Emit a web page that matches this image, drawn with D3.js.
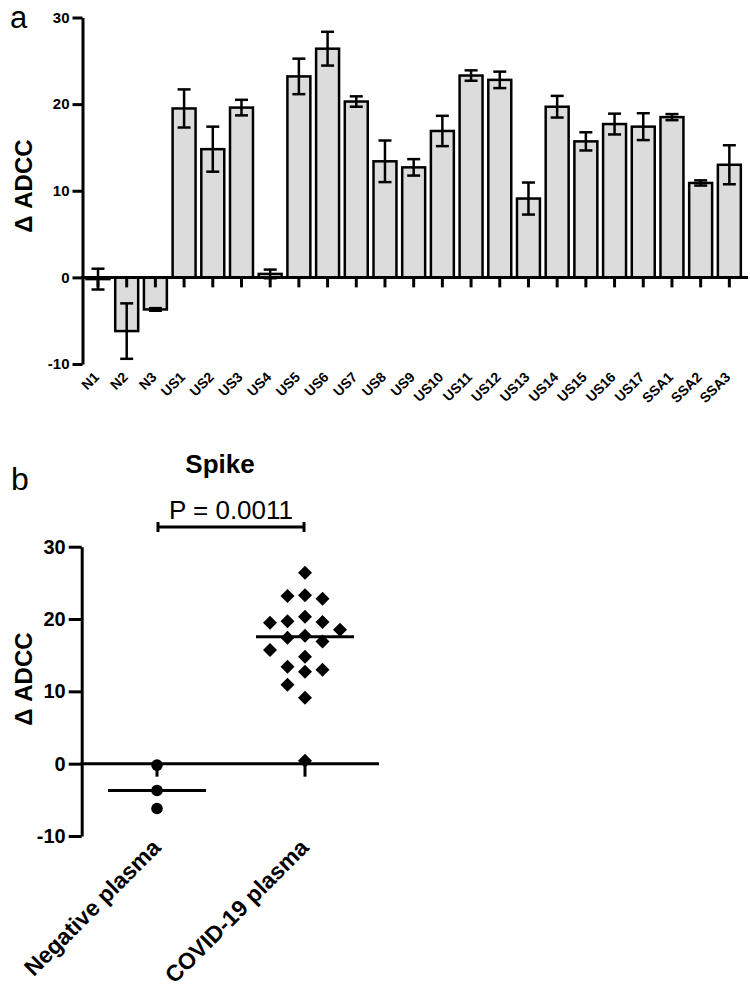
<!DOCTYPE html>
<html><head><meta charset="utf-8">
<script src="https://cdn.jsdelivr.net/npm/d3@7"></script>
<style>
html,body{margin:0;padding:0;background:#fff;}
text{font-family:"Liberation Sans",Arial,Helvetica,sans-serif;}
</style></head>
<body>
<svg id="chart" width="750" height="994"></svg>
<script>
// ---------- data ----------
const categories = ["N1","N2","N3","US1","US2","US3","US4","US5","US6","US7","US8","US9","US10","US11","US12","US13","US14","US15","US16","US17","SSA1","SSA2","SSA3"];
const means  = [-0.2,-6.2,-3.7,19.5,14.8,19.6,0.4,23.2,26.4,20.3,13.4,12.7,16.9,23.3,22.8,9.1,19.7,15.7,17.7,17.4,18.5,10.9,13.0];
const errors = [1.2,3.2,0.15,2.2,2.6,0.9,0.5,2.05,1.95,0.6,2.4,0.95,1.75,0.6,0.95,1.85,1.25,1.05,1.2,1.55,0.35,0.3,2.25];
const yTicks = [-10,0,10,20,30];
const groupLabels = ["Negative plasma","COVID-19 plasma"];
const negativeValues = means.slice(0,3);
const covidValues = means.slice(3);
const pLabel = "P = 0.0011";
const panelBTitle = "Spike";
const yTitle = "\u0394 ADCC";

// ---------- setup ----------
const svg = d3.select("#chart");
const FONT = '"Liberation Sans",Arial,Helvetica,sans-serif';
const fmt = d => String(d);

// ===== Panel a =====
const ya = d3.scaleLinear().domain([-10,30]).range([364,17.5]);
const xa = d3.scaleBand().domain(categories).range([83.65,743.7]).paddingInner(0.2).paddingOuter(0.1);
const ga = svg.append("g");

svg.append("text").attr("x",10).attr("y",28).attr("font-size",31).text("a");

// bars
ga.selectAll("rect.bar").data(categories).join("rect")
  .attr("x",d=>xa(d)).attr("width",xa.bandwidth())
  .attr("y",(d,i)=>ya(Math.max(0,means[i])))
  .attr("height",(d,i)=>Math.abs(ya(means[i])-ya(0)))
  .attr("fill","#dcdcdc").attr("stroke","#000").attr("stroke-width",2.5);

// error bars
const capW = 13;
const eb = ga.selectAll("g.err").data(categories).join("g");
eb.append("line")
  .attr("x1",d=>xa(d)+xa.bandwidth()/2).attr("x2",d=>xa(d)+xa.bandwidth()/2)
  .attr("y1",(d,i)=>ya(means[i]-errors[i])).attr("y2",(d,i)=>ya(means[i]+errors[i]))
  .attr("stroke","#000").attr("stroke-width",2.5);
[-1,1].forEach(s=>{
  eb.append("line")
    .attr("x1",d=>xa(d)+xa.bandwidth()/2-capW/2).attr("x2",d=>xa(d)+xa.bandwidth()/2+capW/2)
    .attr("y1",(d,i)=>ya(means[i]+s*errors[i])).attr("y2",(d,i)=>ya(means[i]+s*errors[i]))
    .attr("stroke","#000").attr("stroke-width",2.5);
});

// y axis
const yAxA = ga.append("g").attr("transform","translate(82.5,0)")
  .call(d3.axisLeft(ya).tickValues(yTicks).tickFormat(fmt).tickSize(10).tickSizeOuter(0).tickPadding(3));
yAxA.select(".domain").attr("stroke-width",3);
yAxA.selectAll(".tick line").attr("stroke-width",3);
yAxA.selectAll(".tick text").attr("font-size",15).attr("font-weight","bold").attr("font-family",FONT).attr("fill","#000");

// x axis
const xAxA = ga.append("g").attr("transform",`translate(0,${ya(0)})`)
  .call(d3.axisBottom(xa).tickSize(10).tickSizeOuter(0));
xAxA.select(".domain").remove();
xAxA.selectAll(".tick line").attr("stroke-width",3);
xAxA.selectAll(".tick text").remove();
ga.append("line").attr("x1",81).attr("x2",748).attr("y1",ya(0)).attr("y2",ya(0)).attr("stroke","#000").attr("stroke-width",3);

ga.selectAll("text.xl").data(categories).join("text")
  .attr("transform",d=>`translate(${xa(d)+xa.bandwidth()/2+2},378) rotate(-45)`)
  .attr("text-anchor","end").attr("font-size",14).attr("font-weight","bold").text(d=>d);

svg.append("text").attr("transform","translate(32,186) rotate(-90)")
  .attr("text-anchor","middle").attr("font-size",24).attr("font-weight","bold").text(yTitle);

// ===== Panel b =====
const yb = d3.scaleLinear().domain([-10,30]).range([836,546.7]);
const xb = d3.scalePoint().domain(groupLabels).range([83,379]).padding(0.5);
const gb = svg.append("g");

svg.append("text").attr("x",11).attr("y",490).attr("font-size",32).text("b");
svg.append("text").attr("x",220).attr("y",473).attr("text-anchor","middle")
  .attr("font-size",26).attr("font-weight","bold").text(panelBTitle);
svg.append("text").attr("x",231).attr("y",519).attr("text-anchor","middle")
  .attr("font-size",26).text(pLabel);
// bracket
const bx1 = xb(groupLabels[0])+1, bx2 = xb(groupLabels[1])-1, by = 527;
gb.append("line").attr("x1",bx1).attr("x2",bx2).attr("y1",by).attr("y2",by).attr("stroke","#000").attr("stroke-width",3);
[bx1,bx2].forEach(x=>gb.append("line").attr("x1",x).attr("x2",x).attr("y1",by-5).attr("y2",by+5).attr("stroke","#000").attr("stroke-width",3));

const yAxB = gb.append("g").attr("transform","translate(81.7,0)")
  .call(d3.axisLeft(yb).tickValues(yTicks).tickFormat(fmt).tickSize(13).tickSizeOuter(0).tickPadding(3));
yAxB.select(".domain").attr("stroke-width",3);
yAxB.selectAll(".tick line").attr("stroke-width",3);
yAxB.selectAll(".tick text").attr("font-size",20).attr("font-weight","bold").attr("font-family",FONT).attr("fill","#000");

gb.append("line").attr("x1",80.5).attr("x2",379).attr("y1",yb(0)).attr("y2",yb(0)).attr("stroke","#000").attr("stroke-width",3);
groupLabels.forEach(g=>{
  gb.append("line").attr("x1",xb(g)).attr("x2",xb(g)).attr("y1",yb(0)).attr("y2",yb(0)+13).attr("stroke","#000").attr("stroke-width",3);
});

svg.append("text").attr("transform","translate(32,679) rotate(-90)")
  .attr("text-anchor","middle").attr("font-size",24).attr("font-weight","bold").text(yTitle);

gb.selectAll("text.gl").data(groupLabels).join("text")
  .attr("transform",d=>`translate(${xb(d)+5},849) rotate(-45)`)
  .attr("text-anchor","end").attr("font-size",23).attr("font-weight","bold").text(d=>d);

// beeswarm layout (computed)
function swarm(values, cx, colStep, minGap){
  const order = values.map((v,i)=>i).sort((a,b)=>values[b]-values[a]);
  const placed = [];
  const res = new Array(values.length);
  const cands = [0,-1,1,-2,2,-3,3,-4,4];
  order.forEach(i=>{
    const py = yb(values[i]);
    for(const c of cands){
      if(!placed.some(p=>p.c===c && Math.abs(p.y-py)<minGap)){
        placed.push({c,y:py}); res[i]={x:cx+c*colStep,y:py}; break;
      }
    }
  });
  return res;
}

const negPts = swarm(negativeValues, xb(groupLabels[0]), 17.5, 15);
gb.selectAll("circle.neg").data(negPts).join("circle")
  .attr("cx",d=>d.x).attr("cy",d=>d.y).attr("r",5.8).attr("fill","#000");
const covPts = swarm(covidValues, xb(groupLabels[1]), 17.5, 15);
const diamond = d3.symbol().type(d3.symbolSquare).size(98);
gb.selectAll("path.cov").data(covPts).join("path")
  .attr("d",diamond).attr("transform",d=>`translate(${d.x},${d.y}) rotate(45)`).attr("fill","#000");

// medians
[[negativeValues,groupLabels[0]],[covidValues,groupLabels[1]]].forEach(([vals,g])=>{
  const m = d3.median(vals);
  gb.append("line").attr("x1",xb(g)-49).attr("x2",xb(g)+49).attr("y1",yb(m)).attr("y2",yb(m))
    .attr("stroke","#000").attr("stroke-width",3);
});
</script>
</body></html>
